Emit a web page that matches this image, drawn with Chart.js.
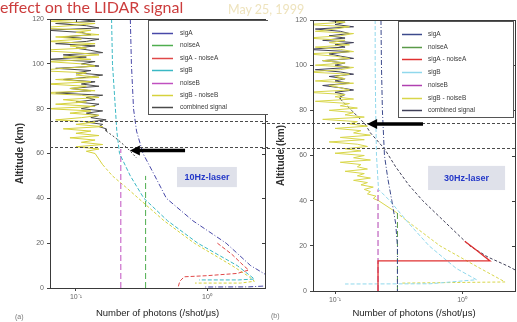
<!DOCTYPE html>
<html><head><meta charset="utf-8">
<script src="https://cdn.jsdelivr.net/npm/chart.js@4/dist/chart.umd.min.js"></script>
<style>
html,body{margin:0;padding:0;background:#fff;}
body{width:517px;height:322px;overflow:hidden;position:relative;font-family:'Liberation Sans',Arial,sans-serif;}
canvas{position:absolute;top:0;}
#c1{left:0;}
#c2{left:262px;}
.slideTitle{position:absolute;left:0px;top:-1px;font:16px Lato;line-height:16px;color:#cc3d3d;white-space:nowrap;}
.date{position:absolute;left:228px;top:3px;font:12.5px Lato;line-height:14px;color:#eee3bd;white-space:nowrap;}
.panel{position:absolute;font:7px 'Liberation Sans';color:#777;}
</style></head>
<body>
<canvas id="c1" width="268" height="322"></canvas>
<canvas id="c2" width="255" height="322"></canvas>
<div class="slideTitle">effect on the LIDAR signal</div>
<div class="date">May 25, 1999</div>
<div class="panel" style="left:15px;top:313px;">(a)</div>
<div class="panel" style="left:271px;top:312px;">(b)</div>
<script>
// ================= DATA =================
const X_TICKS = [0.1, 1];
const X_TICK_LABELS = ['10\u207B\u00B9', '10\u2070'];
const ALT_MIN = 0, ALT_MAX = 120, ALT_STEP = 20;
const LEFT_X_MIN = 0.0634, LEFT_X_MAX = 2.77;
const RIGHT_X_MIN = 0.0671, RIGHT_X_MAX = 2.61;
const SERIES_NAMES = ['sigA', 'noiseA', 'sigA - noiseA', 'sigB', 'noiseB', 'sigB - noiseB', 'combined signal'];
const PANEL_LABELS = ['10Hz-laser', '30Hz-laser'];
const MARK_ALTS = [74.5, 63.1];           // dashed horizontal reference lines (km)

// noisy upper-altitude samples (km)
const NOISE_ALT_L = [120,119,118,117,116,115,114,113,112,111,110,109,108,107,106,105,104,103,102,101,
  100,99,98,97,96,95,94,93,92,91,90,89,88,87,86,85,84,83,82,81,80,79,78,77,76,75,74,73,72,71,
  70,69,68,67,66,65,64,63,62,61,60];
const NOISE_ALT_R = [120,119,118,117,116,115,114,113,112,111,110,109,108,107,106,105,104,103,102,101,
  100,99,98,97,96,95,94,93,92,91,90,89,88,87,86,85,84,83,82,81,80,79,78,77,76,75,74,73,72,71,
  70,69,68,67,66,65,64,63,62,61,60,59,58,57,56,55,54,53,52,51,50,49,48,47,46,45,44,43,42,41,40];

// ---- (a) 10Hz laser ----
const L_SIGA_ALT = [120,100,80,70,60,50,40,30,20,10,6,1,0.5,0.45];
const L_SIGA_VAL = [0.26,0.265,0.275,0.29,0.325,0.40,0.49,0.78,1.4,2.15,2.8,3.0,2.08,0.97];
const L_NOISEA_ALT = [0,50];
const L_NOISEA_VAL = [0.34,0.34];
const L_SIGA_NA_ALT = [20,15,10,8,6.5,5.5,5,3,0];
const L_SIGA_NA_VAL = [1.2,1.55,1.9,2.08,1.7,1.0,0.67,0.62,0.6];
const L_SIGB_ALT = [120,100,80,70,60,50,40,30,20,10,4,3.6,3.6];
const L_SIGB_VAL = [0.187,0.19,0.2,0.205,0.215,0.26,0.33,0.5,0.85,1.7,2.3,1.74,0.87];
const L_NOISEB_ALT = [0,62];
const L_NOISEB_VAL = [0.22,0.22];
const L_SIGB_NB_NOISE = [0.12,0.06,0.14,0.09,0.05,0.13,0.10,0.15,0.07,0.11,
  0.06,0.14,0.09,0.12,0.05,0.10,0.15,0.08,0.13,0.06,
  0.11,0.14,0.08,0.05,0.12,0.10,0.15,0.07,0.13,0.06,
  0.12,0.09,0.14,0.05,0.11,0.15,0.08,0.12,0.07,0.14,
  0.06,0.13,0.09,0.15,0.11,0.07,0.14,0.10,0.16,0.08,
  0.13,0.10,0.15,0.09,0.14,0.11,0.16,0.10,0.15,0.12,0.14];
const L_SIGB_NB_ALT = [55,50,45,40,30,20,10,5,3,2.2,2.2];
const L_SIGB_NB_VAL = [0.16,0.19,0.24,0.30,0.47,0.8,1.55,2.1,2.3,1.8,0.81];
const L_COMB_NOISE = [0.10,0.14,0.07,0.12,0.15,0.06,0.11,0.13,0.08,0.15,
  0.12,0.07,0.14,0.10,0.13,0.16,0.08,0.12,0.06,0.14,
  0.11,0.15,0.07,0.13,0.10,0.16,0.12,0.08,0.14,0.11,
  0.15,0.09,0.13,0.07,0.16,0.12,0.14,0.10,0.15,0.13,
  0.11,0.16,0.12,0.15,0.13,0.17,0.12,0.16,0.15,0.17];
const L_COMB_ALT = [70,68,66,64,62,60,58];
const L_COMB_VAL = [0.17,0.19,0.21,0.23,0.25,0.27,0.29];
const L_ARROW = {from: [0.68, 61.3], to: [0.258, 61.3]};
const L_BOX = {x0: 0.59, x1: 1.69, y0: 54, y1: 45};

// ---- (b) 30Hz laser ----
const R_SIGA_ALT = [120,100,80,60,50,40,30,20,0];
const R_SIGA_VAL = [0.23,0.232,0.236,0.245,0.26,0.28,0.30,0.31,0.31];
const R_NOISEA_ALT = [0,35];
const R_NOISEA_VAL = [0.31,0.31];
const R_SIGA_NA_ALT = [0,13.3,13.3,18,22];
const R_SIGA_NA_VAL = [0.218,0.218,1.66,1.3,1.05];
const R_SIGB_ALT = [120,100,80,60,45,40,35,30,20,10,5,3.2,3.1];
const R_SIGB_VAL = [0.207,0.207,0.209,0.212,0.22,0.27,0.32,0.38,0.55,0.9,1.3,0.56,0.12];
const R_NOISEB_ALT = [0,45];
const R_NOISEB_VAL = [0.218,0.218];
const R_SIGB_NB_NOISE = [0.09,0.12,0.06,0.13,0.10,0.07,0.14,0.11,0.06,0.12,
  0.09,0.13,0.07,0.11,0.14,0.06,0.10,0.13,0.08,0.12,
  0.07,0.14,0.11,0.06,0.13,0.10,0.12,0.07,0.14,0.09,
  0.11,0.13,0.06,0.12,0.10,0.14,0.07,0.13,0.11,0.15,
  0.09,0.14,0.12,0.17,0.08,0.15,0.13,0.18,0.10,0.16,
  0.14,0.19,0.11,0.17,0.09,0.15,0.18,0.12,0.16,0.10,
  0.17,0.14,0.19,0.11,0.16,0.15,0.18,0.12,0.17,0.15,
  0.19,0.14,0.18,0.16,0.20,0.17,0.19,0.18,0.21,0.20,0.22];
const R_SIGB_NB_ALT = [35,30,20,10,4,3.5];
const R_SIGB_NB_VAL = [0.30,0.39,0.67,1.39,2.18,0.33];
const R_COMB_NOISE = [0.08,0.12,0.10,0.14,0.07,0.11,0.13,0.09,0.12,0.08,
  0.14,0.10,0.12,0.06,0.13,0.09,0.11,0.14,0.08,0.12,
  0.10,0.13,0.07,0.11,0.14,0.09,0.12,0.10,0.13,0.08,
  0.11,0.14,0.10,0.12,0.11];
const R_COMB_ALT = [85,80,74,70,63,55,47,40,30,20,15,11,8];
const R_COMB_VAL = [0.11,0.135,0.172,0.19,0.245,0.30,0.38,0.49,0.75,1.15,1.6,2.3,2.9];
const R_ARROW = {from: [0.493, 73.9], to: [0.179, 73.9]};
const R_BOX = {x0: 0.54, x1: 2.18, y0: 55.4, y1: 44.7};

// ================= HELPERS =================
const pts = (alts, vals) => alts.map((a, i) => ({x: vals[i], y: a}));

function ds(label, data, color, dash, width, opts) {
  return Object.assign({
    label, data, borderColor: color, backgroundColor: color,
    borderWidth: width || 1, borderDash: dash || [], pointRadius: 0,
    showLine: true, tension: 0, fill: false
  }, opts || {});
}
const dashBelow = (alt, pattern) => ({segment: {borderDash: c => c.p0.parsed.y <= alt ? pattern : []}});

const decor = {
  id: 'decor',
  afterDatasetsDraw(chart, args, o) {
    const {ctx, chartArea: a, scales: {x, y}} = chart;
    ctx.save();
    // frame
    ctx.strokeStyle = '#3a3a3a'; ctx.lineWidth = 1; ctx.setLineDash([]);
    ctx.strokeRect(Math.round(a.left) + 0.5, Math.round(a.top) + 0.5, Math.round(a.right - a.left), Math.round(a.bottom - a.top));
    // inward mirror ticks
    ctx.beginPath();
    y.ticks.forEach(t => { const py = Math.round(y.getPixelForValue(t.value)) + 0.5; ctx.moveTo(a.right, py); ctx.lineTo(a.right - 3, py); });
    x.ticks.forEach(t => { const px = Math.round(x.getPixelForValue(t.value)) + 0.5; ctx.moveTo(px, a.top); ctx.lineTo(px, a.top + 3); });
    ctx.stroke();
    // dashed reference lines
    ctx.setLineDash([3, 2]); ctx.strokeStyle = '#4a4a4a'; ctx.lineWidth = 1;
    MARK_ALTS.forEach(alt => {
      const py = Math.round(y.getPixelForValue(alt)) + 0.5;
      ctx.beginPath();
      ctx.moveTo(o.dashFromEdge ? 0 : a.left, py);
      ctx.lineTo(o.dashToEdge ? chart.width : a.right, py);
      ctx.stroke();
    });
    ctx.setLineDash([]);
    // arrow
    const ar = o.arrow;
    const x0 = x.getPixelForValue(ar.from[0]), x1 = x.getPixelForValue(ar.to[0]);
    const yy = y.getPixelForValue(ar.from[1]);
    ctx.strokeStyle = '#000'; ctx.fillStyle = '#000'; ctx.lineWidth = 3.5;
    ctx.beginPath(); ctx.moveTo(x0, yy); ctx.lineTo(x1 + 7, yy); ctx.stroke();
    ctx.beginPath(); ctx.moveTo(x1, yy); ctx.lineTo(x1 + 10, yy - 5); ctx.lineTo(x1 + 10, yy + 5); ctx.closePath(); ctx.fill();
    // label box
    const b = o.box;
    const bx0 = x.getPixelForValue(b.x0), bx1 = x.getPixelForValue(b.x1);
    const by0 = y.getPixelForValue(b.y0), by1 = y.getPixelForValue(b.y1);
    ctx.fillStyle = '#dfe1ea'; ctx.fillRect(bx0, by0, bx1 - bx0, by1 - by0);
    ctx.fillStyle = '#2438c8'; ctx.font = 'bold 9px "Liberation Sans"';
    ctx.textAlign = 'center'; ctx.textBaseline = 'middle';
    ctx.fillText(o.boxText, (bx0 + bx1) / 2, (by0 + by1) / 2 + 0.5);
    // legend
    const lg = o.legend;
    ctx.fillStyle = '#fff'; ctx.fillRect(lg.x0, lg.y0, lg.x1 - lg.x0, lg.y1 - lg.y0);
    ctx.strokeStyle = '#555'; ctx.lineWidth = 1;
    ctx.strokeRect(lg.x0 + 0.5, lg.y0 + 0.5, lg.x1 - lg.x0, lg.y1 - lg.y0);
    ctx.textAlign = 'left'; ctx.font = '6.5px "Liberation Sans"';
    chart.data.datasets.forEach((d, i) => {
      const ry = Math.round(lg.row0 + i * lg.gap) + 0.5;
      ctx.strokeStyle = d.borderColor; ctx.lineWidth = 1.5;
      ctx.beginPath(); ctx.moveTo(lg.lx0, ry); ctx.lineTo(lg.lx1, ry); ctx.stroke();
      ctx.fillStyle = '#3a3a3a'; ctx.fillText(d.label, lg.tx, ry);
    });
    ctx.restore();
  }
};

function makeChart(id, datasets, xmin, xmax, pad, yWidth, xHeight, yTitlePad, decorOpts) {
  return new Chart(document.getElementById(id), {
    type: 'scatter',
    data: {datasets},
    options: {
      responsive: false, animation: false,
      layout: {padding: pad},
      plugins: {legend: {display: false}, tooltip: {enabled: false}, decor: decorOpts},
      scales: {
        x: {
          type: 'logarithmic', min: xmin, max: xmax,
          afterBuildTicks: s => { s.ticks = X_TICKS.map(v => ({value: v})); },
          afterFit: s => { s.height = xHeight; },
          ticks: {callback: v => X_TICK_LABELS[X_TICKS.indexOf(v)] || '', font: {size: 7, family: 'Liberation Sans'}, color: '#666', padding: 2, maxRotation: 0, autoSkip: false},
          grid: {drawOnChartArea: false, tickLength: 3, color: '#444'},
          border: {color: '#3a3a3a'},
          title: {display: true, text: 'Number of photons (/shot/\u03BCs)', font: {size: 9.5, family: 'Liberation Sans'}, color: '#222', padding: {top: 0, bottom: 3}}
        },
        y: {
          min: ALT_MIN, max: ALT_MAX,
          afterFit: s => { s.width = yWidth; },
          ticks: {stepSize: ALT_STEP, font: {size: 7, family: 'Liberation Sans'}, color: '#666', padding: 3},
          grid: {drawOnChartArea: false, tickLength: 3, color: '#444'},
          border: {color: '#3a3a3a'},
          title: {display: true, text: 'Altitude (km)', font: {size: 10, weight: 'bold', family: 'Liberation Sans'}, color: '#333', padding: {top: yTitlePad, bottom: 0}}
        }
      }
    },
    plugins: [decor]
  });
}

// ---- left chart (10Hz) ----
makeChart('c1', [
  ds(SERIES_NAMES[0], pts(L_SIGA_ALT, L_SIGA_VAL), '#4848a8', [5,2,1,2]),
  ds(SERIES_NAMES[1], pts(L_NOISEA_ALT, L_NOISEA_VAL), '#4fae4f', [6,3]),
  ds(SERIES_NAMES[2], pts(L_SIGA_NA_ALT, L_SIGA_NA_VAL), '#e04848', [4,2]),
  ds(SERIES_NAMES[3], pts(L_SIGB_ALT, L_SIGB_VAL), '#3ab8c4', [4,2]),
  ds(SERIES_NAMES[4], pts(L_NOISEB_ALT, L_NOISEB_VAL), '#c050c0', [6,3]),
  ds(SERIES_NAMES[5], pts(NOISE_ALT_L.concat(L_SIGB_NB_ALT), L_SIGB_NB_NOISE.concat(L_SIGB_NB_VAL)), '#d6d23c', [], 1, dashBelow(59, [3,2])),
  ds(SERIES_NAMES[6], pts(NOISE_ALT_L.slice(0, L_COMB_NOISE.length).concat(L_COMB_ALT), L_COMB_NOISE.concat(L_COMB_VAL)), '#4a4a4a', [], 1, dashBelow(70, [2,2]))
], LEFT_X_MIN, LEFT_X_MAX, {left: 0, right: 3, top: 19, bottom: 0}, 50, 34, 14, {
  dashFromEdge: false, dashToEdge: true, arrow: L_ARROW, box: L_BOX, boxText: PANEL_LABELS[0],
  legend: {x0: 148, y0: 20, x1: 270, y1: 114, row0: 33, gap: 12.4, lx0: 152, lx1: 173, tx: 180}
});

// ---- right chart (30Hz) ----
makeChart('c2', [
  ds(SERIES_NAMES[0], pts(R_SIGA_ALT, R_SIGA_VAL), '#3c4a8c', [5,2,1,2]),
  ds(SERIES_NAMES[1], pts(R_NOISEA_ALT, R_NOISEA_VAL), '#5a9a48', [6,3]),
  ds(SERIES_NAMES[2], pts(R_SIGA_NA_ALT, R_SIGA_NA_VAL), '#e03030', [], 1.3),
  ds(SERIES_NAMES[3], pts(R_SIGB_ALT, R_SIGB_VAL), '#90d8ec', [4,2]),
  ds(SERIES_NAMES[4], pts(R_NOISEB_ALT, R_NOISEB_VAL), '#b040b0', [6,3]),
  ds(SERIES_NAMES[5], pts(NOISE_ALT_R.concat(R_SIGB_NB_ALT), R_SIGB_NB_NOISE.concat(R_SIGB_NB_VAL)), '#d8d64a', [], 1, dashBelow(39, [3,2])),
  ds(SERIES_NAMES[6], pts(NOISE_ALT_R.slice(0, R_COMB_NOISE.length).concat(R_COMB_ALT), R_COMB_NOISE.concat(R_COMB_VAL)), '#404058', [], 1, dashBelow(85, [3,2]))
], RIGHT_X_MIN, RIGHT_X_MAX, {left: 0, right: 2, top: 20, bottom: 0}, 51, 31, 13, {
  dashFromEdge: true, dashToEdge: false, arrow: R_ARROW, box: R_BOX, boxText: PANEL_LABELS[1],
  legend: {x0: 136, y0: 21, x1: 251, y1: 117, row0: 34, gap: 12.7, lx0: 140, lx1: 160, tx: 166}
});
</script>
</body></html>
